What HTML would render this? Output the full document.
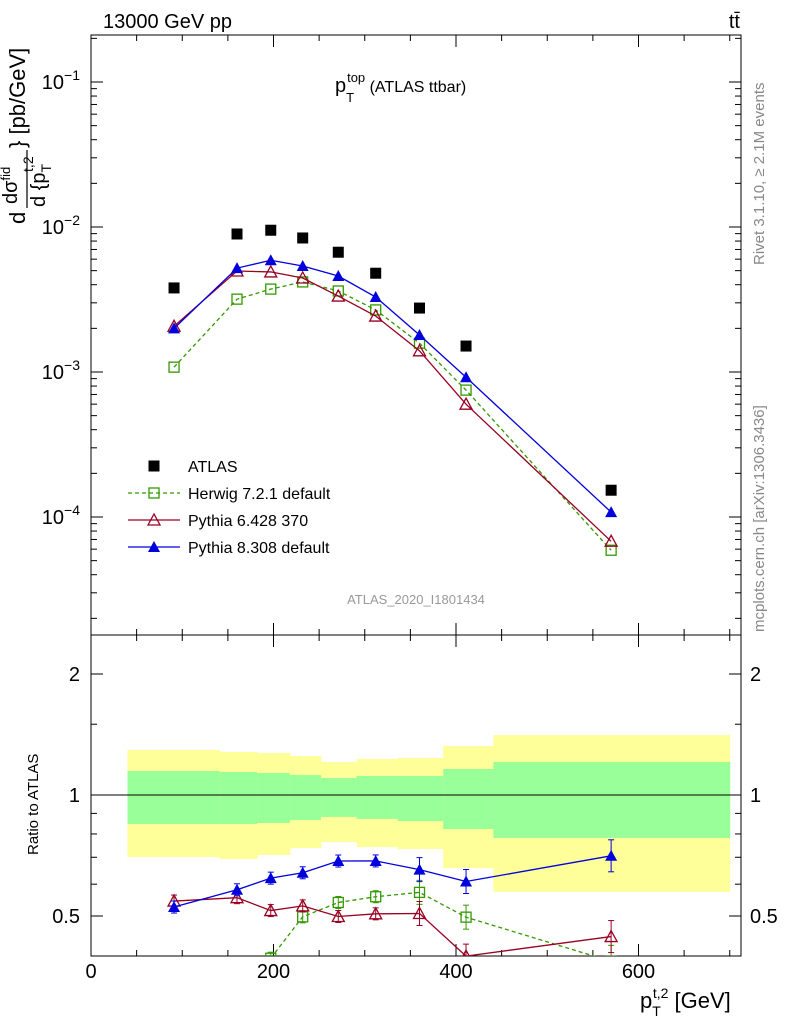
<!DOCTYPE html>
<html><head><meta charset="utf-8"><style>
body{margin:0;background:#fff;}
svg{font-family:"Liberation Sans",sans-serif;}
</style></head><body>
<svg id="c" width="786" height="1024" xmlns="http://www.w3.org/2000/svg">
<g id="g"></g>
</svg>
<script>
const xvals=[91,160,197,232,271,312,360,411,570];
const atlas=[3.8e-3,8.95e-3,9.5e-3,8.4e-3,6.7e-3,4.8e-3,2.76e-3,1.51e-3,1.53e-4];
const herwig=[1.08e-3,3.18e-3,3.73e-3,4.18e-3,3.62e-3,2.68e-3,1.58e-3,7.5e-4,5.9e-5];
const py6=[2.07e-3,4.97e-3,4.9e-3,4.45e-3,3.34e-3,2.43e-3,1.4e-3,6.0e-4,6.8e-5];
const py8=[2.0e-3,5.2e-3,5.9e-3,5.38e-3,4.59e-3,3.29e-3,1.8e-3,9.2e-4,1.08e-4];
const bandEdges=[40,141,182,218,252,291,336,386,441,700];
const yelHi=[1.294,1.279,1.272,1.250,1.208,1.229,1.236,1.324,1.410];
const grnHi=[1.147,1.141,1.134,1.121,1.102,1.115,1.115,1.161,1.208];
const grnLo=[0.847,0.847,0.852,0.866,0.882,0.872,0.861,0.823,0.782];
const yelLo=[0.701,0.693,0.709,0.738,0.764,0.742,0.734,0.658,0.574];
const xTicks=[0,200,400,600];

const NS="http://www.w3.org/2000/svg";
const G=document.getElementById('g');
function el(t,a,p){const e=document.createElementNS(NS,t);for(const k in a)e.setAttribute(k,a[k]);(p||G).appendChild(e);return e;}
const L=91,R=741,T=35,M=635,B=956;
const X=v=>91+v*0.9125;
const Y=v=>82-(Math.log10(v)+1)*145;
const YR=v=>795-Math.log2(v)*121;

const defs=el('defs',{});
const c1=el('clipPath',{id:'cm'},defs);el('rect',{x:L,y:T,width:R-L,height:M-T},c1);
const c2=el('clipPath',{id:'cr'},defs);el('rect',{x:L,y:M,width:R-L,height:B-M},c2);

const gb=el('g',{'clip-path':'url(#cr)'});


for(let i=0;i<yelHi.length;i++){
 const x0=X(bandEdges[i]),x1=X(bandEdges[i+1]);
 const r=el('rect',{x:x0,y:YR(yelHi[i]),width:x1-x0+0.5,height:YR(yelLo[i])-YR(yelHi[i]),fill:'#ffff99'},gb);
 
 
 const r2=el('rect',{x:x0,y:YR(grnHi[i]),width:x1-x0+0.5,height:YR(grnLo[i])-YR(grnHi[i]),fill:'#99ff99'},gb);
 
 
}
el('line',{x1:L,x2:R,y1:YR(1),y2:YR(1),stroke:'#000','stroke-width':1},gb);

el('rect',{x:L,y:T,width:R-L,height:M-T,fill:'none',stroke:'#000','stroke-width':1});
el('rect',{x:L,y:M,width:R-L,height:B-M,fill:'none',stroke:'#000','stroke-width':1});

for(let v=0;v<=700;v+=50){
 const x=X(v),maj=v%200==0;const l=maj?12:6;
 el('line',{x1:x,x2:x,y1:B,y2:B-l,stroke:'#000'});
 el('line',{x1:x,x2:x,y1:M,y2:M-l,stroke:'#000'});
 el('line',{x1:x,x2:x,y1:M,y2:M+l,stroke:'#000'});
 el('line',{x1:x,x2:x,y1:T,y2:T+l,stroke:'#000'});
}
xTicks.forEach(v=>{const t=el('text',{x:X(v),y:978,'font-size':20,'text-anchor':'middle'});t.textContent=v;
 });
for(let d=-5;d<=-1;d++){
 for(let m=1;m<10;m++){const v=m*Math.pow(10,d);const y=Y(v);if(y<T||y>M)continue;const l=m==1?12:6;
  el('line',{x1:L,x2:L+l,y1:y,y2:y,stroke:'#000'});el('line',{x1:R,x2:R-l,y1:y,y2:y,stroke:'#000'});}
 if(d>=-4){const t=el('text',{x:80,y:Y(Math.pow(10,d))+7,'font-size':20,'text-anchor':'end'});
  t.innerHTML='10<tspan dy="-9" font-size="14">'+('−'+(-d))+'</tspan>';
  }
}
[0.5,0.6,0.7,0.8,0.9,1,1.5,2].forEach(v=>{const y=YR(v);const maj=[0.5,1,2].includes(v);const l=maj?12:6;
 el('line',{x1:L,x2:L+l,y1:y,y2:y,stroke:'#000'});el('line',{x1:R,x2:R-l,y1:y,y2:y,stroke:'#000'});
 if(maj){[[80,'end'],[750,'start']].forEach(p=>{const t=el('text',{x:p[0],y:y+7,'font-size':20,'text-anchor':p[1]});t.textContent=v;
 });}
});

function marker(g,type,x,y,col){
 if(type=='sq')el('rect',{x:x-5,y:y-5,width:10,height:10,fill:'none',stroke:col,'stroke-width':1.3},g);
 else if(type=='fsq')el('rect',{x:x-5.5,y:y-5.5,width:11,height:11,fill:col},g);
 else if(type=='tri')el('polygon',{points:`${x},${y-6} ${x-6},${y+5} ${x+6},${y+5}`,fill:'none',stroke:col,'stroke-width':1.3},g);
 else el('polygon',{points:`${x},${y-6} ${x-6},${y+5} ${x+6},${y+5}`,fill:col},g);
}
const series=[[herwig,'#339900','sq','4,3','herwig'],[py6,'#990022','tri','','pythia6'],[py8,'#0000dd','ftri','','pythia8']];
series.forEach(s=>{
 const gm=el('g',{'clip-path':'url(#cm)'});
 
 el('polyline',{points:xvals.map((v,i)=>X(v)+','+Y(s[0][i])).join(' '),fill:'none',stroke:s[1],'stroke-width':1.3,'stroke-dasharray':s[3]},gm);
 xvals.forEach((v,i)=>marker(gm,s[2],X(v),Y(s[0][i]),s[1]));
 const gr=el('g',{'clip-path':'url(#cr)'});
 
 el('polyline',{points:xvals.map((v,i)=>X(v)+','+YR(s[0][i]/atlas[i])).join(' '),fill:'none',stroke:s[1],'stroke-width':1.3,'stroke-dasharray':s[3]},gr);
 xvals.forEach((v,i)=>{const y=YR(s[0][i]/atlas[i]);const e=i==8?16:i>=6?12:6;
  el('line',{x1:X(v),x2:X(v),y1:y-e,y2:y+e,stroke:s[1]},gr);
  el('line',{x1:X(v)-3,x2:X(v)+3,y1:y-e,y2:y-e,stroke:s[1]},gr);
  el('line',{x1:X(v)-3,x2:X(v)+3,y1:y+e,y2:y+e,stroke:s[1]},gr);
  marker(gr,s[2],X(v),y,s[1]);});
});
const ga=el('g',{});
xvals.forEach((v,i)=>marker(ga,'fsq',X(v),Y(atlas[i]),'#000'));

const leg=[['fsq','#000','','ATLAS'],['sq','#339900','4,3','Herwig 7.2.1 default'],['tri','#990022','','Pythia 6.428 370'],['ftri','#0000dd','','Pythia 8.308 default']];
leg.forEach((l,i)=>{const y=466+i*27;const g=el('g',{});
 if(i>0)el('line',{x1:128,x2:180,y1:y,y2:y,stroke:l[1],'stroke-width':1.3,'stroke-dasharray':l[2]},g);
 marker(g,l[0],154,y,l[1]);const t=el('text',{x:188,y:y+6,'font-size':16},g);t.textContent=l[3];});

function txt(x,y,s,attrs,name,p){const t=el('text',Object.assign({x:x,y:y},attrs),p);t.innerHTML=s;return t;}
txt(103,28,'13000 GeV pp',{'font-size':20},'energy-label');
txt(740,28,'tt̄',{'font-size':20,'text-anchor':'end'},'process-label');
txt(335,92,'p<tspan dy="10" font-size="13">T</tspan><tspan dy="-20" font-size="13" dx="-7">top</tspan><tspan dy="10" font-size="16"> (ATLAS ttbar)</tspan>',{'font-size':20},'plot-title');
txt(416,604,'ATLAS_2020_I1801434',{'font-size':13,fill:'#999','text-anchor':'middle'},'analysis-id');
txt(0,0,'Rivet 3.1.10, ≥ 2.1M events',{'font-size':15,fill:'#888',transform:'translate(764,265) rotate(-90)'},'rivet-label');
txt(0,0,'mcplots.cern.ch [arXiv:1306.3436]',{'font-size':15,fill:'#888',transform:'translate(764,632) rotate(-90)'},'mcplots-label');
txt(0,0,'Ratio to ATLAS',{'font-size':15,transform:'translate(38,855) rotate(-90)'},'ratio-y-title');
// y axis title
const yt=el('g',{transform:'translate(0,240) rotate(-90)'});

txt(16,25,'d',{'font-size':22},'y-title-d',yt);
txt(36,17,'dσ<tspan dy="-7" font-size="13">fid</tspan>',{'font-size':20},'y-title-numerator',yt);
el('line',{x1:32,x2:90,y1:27,y2:27,stroke:'#000','stroke-width':1.2},yt);
txt(33,45,'d {p<tspan dy="6" font-size="14">T</tspan><tspan dy="-18" dx="-8" font-size="14">t,2</tspan>',{'font-size':20},'y-title-denominator',yt);
txt(92,25,'} [pb/GeV]',{'font-size':22},'y-title-units',yt);
txt(640,1008,'p<tspan dy="8" font-size="14">T</tspan><tspan dy="-18" dx="-8" font-size="14">t,2</tspan><tspan dy="10"> [GeV]</tspan>',{'font-size':22},'x-axis-title');
</script>
</body></html>
